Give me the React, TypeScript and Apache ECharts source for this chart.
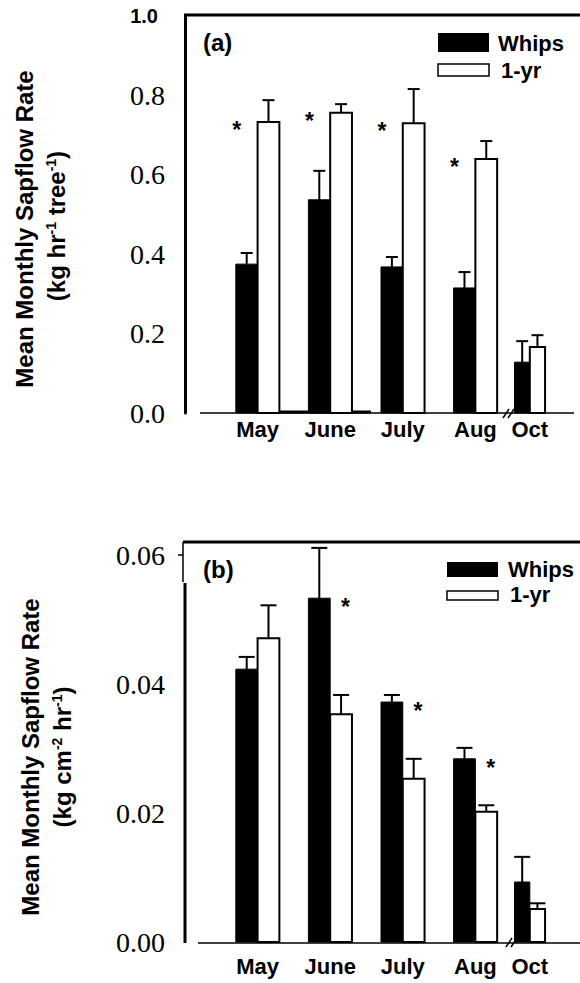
import React, { useEffect, useRef } from "react";
import * as echarts from "echarts";

// ---------- data ----------
const months = ["May", "June", "July", "Aug", "Oct"];

// Panel (a): kg hr-1 tree-1
const whipsA = [0.375, 0.537, 0.368, 0.315, 0.128];
const whipsAErr = [0.028, 0.073, 0.025, 0.040, 0.053];
const yrA = [0.733, 0.756, 0.730, 0.640, 0.166];
const yrAErr = [0.055, 0.022, 0.086, 0.045, 0.030];
const sigA = [1, 1, 1, 1, 0];

// Panel (b): kg cm-2 hr-1
const whipsB = [0.0423, 0.0533, 0.0372, 0.0284, 0.0093];
const whipsBErr = [0.0019, 0.0078, 0.0011, 0.0017, 0.0039];
const yrB = [0.0471, 0.0353, 0.0253, 0.0202, 0.0051];
const yrBErr = [0.0051, 0.0030, 0.0031, 0.0010, 0.0009];
const sigB = [0, 1, 1, 1, 0];

const yTicksA = [0, 0.2, 0.4, 0.6, 0.8, 1.0];
const yTicksB = [0, 0.02, 0.04, 0.06];

// ---------- layout ----------
const catPos = [0, 1, 2, 3, 3.75]; // Oct follows an axis break
const barW = [0.3, 0.3, 0.3, 0.3, 0.21];

const SANS = '"Liberation Sans", Arial, Helvetica, sans-serif';
const SERIF = '"Liberation Serif", "Times New Roman", serif';

function buildData(w: number[], we: number[], y: number[], ye: number[], sig: number[]) {
  return catPos.map((p, i) => [p, w[i], we[i], y[i], ye[i], sig[i]]);
}

function makeRender(capPx: number, panel: "a" | "b") {
  return (params: any, api: any) => {
    const i = params.dataIndex;
    const pos = api.value(0);
    const w = api.value(1);
    const we = api.value(2);
    const y = api.value(3);
    const ye = api.value(4);
    const sig = api.value(5);
    const [xc, y0] = api.coord([pos, 0]);
    const yW = api.coord([pos, w])[1];
    const yWe = api.coord([pos, w + we])[1];
    const yY = api.coord([pos, y])[1];
    const yYe = api.coord([pos, y + ye])[1];
    const bw = api.size([barW[i], 0])[0];
    const xw = xc - bw / 2;
    const xy = xc + bw / 2;
    const ls = { stroke: "#000", lineWidth: 2 };
    const children: any[] = [
      // error bars (upper only)
      { type: "line", shape: { x1: xw, y1: yW, x2: xw, y2: yWe }, style: ls },
      { type: "line", shape: { x1: xw - capPx, y1: yWe, x2: xw + capPx, y2: yWe }, style: ls },
      { type: "line", shape: { x1: xy, y1: yY, x2: xy, y2: yYe }, style: ls },
      { type: "line", shape: { x1: xy - capPx, y1: yYe, x2: xy + capPx, y2: yYe }, style: ls },
      {
        type: "rect",
        shape: { x: xc - bw, y: yW, width: bw, height: y0 - yW },
        style: { fill: "#000", stroke: "#000", lineWidth: 1 },
      },
      {
        type: "rect",
        shape: { x: xc, y: yY, width: bw, height: y0 - yY },
        style: { fill: "#fff", stroke: "#000", lineWidth: 2 },
      },
    ];
    if (sig) {
      const sx = panel === "a" ? xc - bw + 1 : xc + bw * 0.7;
      const sy = panel === "a" ? yY - 3.5 : yW - 2.5;
      children.push({
        type: "text",
        x: sx,
        y: sy,
        style: {
          text: "*",
          fontSize: 23,
          fontWeight: "bold",
          fontFamily: SANS,
          fill: "#000",
          align: "center",
          verticalAlign: "top",
        },
      });
    }
    return { type: "group", children };
  };
}

function monthLabel(v: number) {
  const k = catPos.findIndex((p) => Math.abs(p - v) < 1e-6);
  return k >= 0 ? months[k] : "";
}

function line(x1: number, y1: number, x2: number, y2: number, lw: number) {
  return {
    type: "line",
    shape: { x1, y1, x2, y2 },
    style: { stroke: "#000", lineWidth: lw },
    silent: true,
  };
}

function txt(x: number, y: number, text: string, size: number, extra: any = {}) {
  return {
    type: "text",
    x,
    y,
    silent: true,
    style: {
      text,
      fontSize: size,
      fontWeight: "bold",
      fontFamily: SANS,
      fill: "#000",
      align: "left",
      verticalAlign: "middle",
      ...extra,
    },
  };
}

const supRich = {
  sup: {
    fontSize: 14,
    fontWeight: "bold",
    fontFamily: SANS,
    fill: "#000",
    verticalAlign: "top",
    padding: [0, 0, 10, 0],
  },
};

function vTitle(x: number, y: number, text: string) {
  return {
    type: "text",
    x,
    y,
    rotation: Math.PI / 2,
    silent: true,
    style: {
      text,
      fontSize: 24,
      fontWeight: "bold",
      fontFamily: SANS,
      fill: "#000",
      align: "center",
      verticalAlign: "middle",
      rich: supRich,
    },
  };
}

export default function App() {
  const ref = useRef<HTMLDivElement>(null);
  useEffect(() => {
    if (!ref.current) return;
    const chart = echarts.init(ref.current, null, { renderer: "svg" });

    const xAxisBase = (gridIndex: number, margin: number) => ({
      gridIndex,
      type: "value",
      min: -1,
      max: 4.4,
      interval: 0.25,
      axisLine: { show: false, onZero: false },
      axisTick: { show: false },
      splitLine: { show: false },
      axisLabel: {
        formatter: monthLabel,
        fontFamily: SANS,
        fontWeight: "bold",
        fontSize: 22,
        color: "#000",
        margin,
        showMinLabel: true,
        showMaxLabel: true,
        hideOverlap: false,
      },
    });

    const option: any = {
      animation: false,
      backgroundColor: "#fff",
      grid: [
        { left: 185, top: 16, width: 396, height: 397 },
        { left: 185, top: 555, width: 396, height: 387 },
      ],
      xAxis: [xAxisBase(0, 5), xAxisBase(1, 13)],
      yAxis: [
        {
          gridIndex: 0,
          type: "value",
          position: "left",
          min: yTicksA[0],
          max: yTicksA[yTicksA.length - 1],
          interval: 0.2,
          axisLine: { show: true, onZero: false, lineStyle: { color: "#000", width: 3 } },
          axisTick: { show: false },
          splitLine: { show: false },
          axisLabel: {
            margin: 20,
            color: "#000",
            fontFamily: SERIF,
            fontSize: 28,
            formatter: (v: number) =>
              Math.abs(v - 1) < 1e-9 ? "{b|1.0}" : "{n|" + v.toFixed(1) + "}",
            rich: {
              n: { fontFamily: SERIF, fontSize: 28, color: "#000" },
              b: {
                fontFamily: SANS,
                fontSize: 20,
                fontWeight: "bold",
                color: "#000",
                padding: [0, 7, 0, 0],
              },
            },
          },
        },
        {
          gridIndex: 1,
          type: "value",
          position: "left",
          min: yTicksB[0],
          max: yTicksB[yTicksB.length - 1],
          interval: 0.02,
          axisLine: { show: false, onZero: false },
          axisTick: { show: false },
          splitLine: { show: false },
          axisLabel: {
            margin: 20,
            color: "#000",
            fontFamily: SERIF,
            fontSize: 28,
            formatter: (v: number) => v.toFixed(2),
          },
        },
      ],
      series: [
        {
          type: "custom",
          name: "Panel a",
          xAxisIndex: 0,
          yAxisIndex: 0,
          clip: false,
          encode: { x: 0, y: [1, 3] },
          renderItem: makeRender(6, "a"),
          data: buildData(whipsA, whipsAErr, yrA, yrAErr, sigA),
        },
        {
          type: "custom",
          name: "Panel b",
          xAxisIndex: 1,
          yAxisIndex: 1,
          clip: false,
          encode: { x: 0, y: [1, 3] },
          renderItem: makeRender(8, "b"),
          data: buildData(whipsB, whipsBErr, yrB, yrBErr, sigB),
        },
      ],
      graphic: [
        // ----- panel (a) frame -----
        line(184, 15, 580, 15, 3),
        line(200, 413, 574, 413, 1.5),
        line(270, 412, 371, 412, 3),
        line(503, 418, 509, 409, 1.5),
        line(508, 418, 514, 409, 1.5),
        txt(203, 42, "(a)", 24),
        { type: "rect", shape: { x: 438, y: 33, width: 51, height: 19 }, style: { fill: "#000" }, silent: true },
        txt(498, 43, "Whips", 22),
        { type: "rect", shape: { x: 438, y: 64, width: 51, height: 12 }, style: { fill: "#fff", stroke: "#000", lineWidth: 1.5 }, silent: true },
        txt(501, 70, "1-yr", 22),
        vTitle(24, 229, "Mean Monthly Sapflow Rate"),
        vTitle(56, 226, "(kg hr{sup|-1} tree{sup|-1})"),
        // ----- panel (b) frame -----
        line(183, 542, 580, 542, 3),
        line(183, 542, 183, 582, 1.5),
        line(178, 555, 183, 555, 1.5),
        line(185, 583, 185, 943, 3),
        line(198, 943, 580, 943, 1.5),
        line(506, 947, 512, 938, 1.5),
        line(511, 947, 517, 938, 1.5),
        txt(203, 569, "(b)", 24),
        { type: "rect", shape: { x: 447, y: 562, width: 51, height: 15 }, style: { fill: "#000" }, silent: true },
        txt(508, 569, "Whips", 22),
        { type: "rect", shape: { x: 447, y: 591, width: 51, height: 9 }, style: { fill: "#fff", stroke: "#000", lineWidth: 1.5 }, silent: true },
        txt(510, 594, "1-yr", 22),
        vTitle(30, 757, "Mean Monthly Sapflow Rate"),
        vTitle(62, 757, "(kg cm{sup|-2} hr{sup|-1})"),
      ],
    };
    chart.setOption(option);
    return () => chart.dispose();
  }, []);
  return (
    <div
      ref={ref}
      style={{ position: "absolute", left: 0, top: 0, width: 580, height: 983, background: "#fff" }}
    />
  );
}
